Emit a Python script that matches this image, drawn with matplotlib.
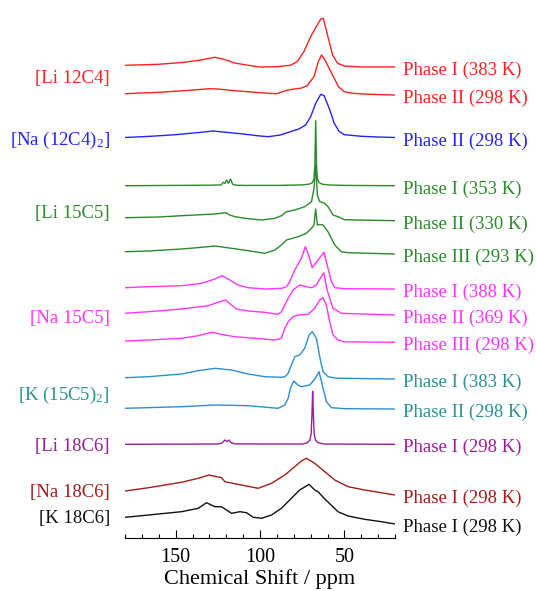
import matplotlib
matplotlib.use("Agg")
import matplotlib.pyplot as plt

plt.rcParams["font.family"] = ["Liberation Serif", "DejaVu Serif"]
plt.rcParams["mathtext.fontset"] = "custom"
plt.rcParams["mathtext.rm"] = "Liberation Serif"
plt.rcParams["mathtext.it"] = "Liberation Serif:italic"

# ---- spectra: ppm and intensity above own baseline ----
li12c4_p1_ppm = [180, 160, 145, 135, 127, 122, 115, 108, 100, 90, 82, 78, 74, 70, 67, 64, 62.5, 60, 57, 54, 50, 40, 30, 20]
li12c4_p1_int = [1.7, 2.7, 4.7, 7, 9.7, 8, 4, 2, 0, 0.3, 1.7, 5.3, 15.3, 30.3, 39.3, 48, 48.7, 32, 12, 3.7, 1, 0, 0, 0]

li12c4_p2_ppm = [180, 160, 145, 130, 125, 115, 105, 95, 90, 85, 80, 76, 72, 70.5, 68, 65.5, 63.5, 61.5, 59.5, 56.5, 53.5, 50, 45, 35, 20]
li12c4_p2_int = [1.3, 2.7, 4.3, 6.3, 6, 4.3, 3, 1.7, 1.3, 4.3, 6, 6.7, 9.3, 13, 18.3, 33.3, 40, 35, 28.3, 18.3, 8.3, 3.3, 1.7, 0.7, 0]

na12c4_p2_ppm = [180, 165, 150, 135, 128, 120, 110, 100, 95, 88, 82, 77, 73, 70, 67, 64, 62, 59, 56, 53, 50, 40, 30, 20]
na12c4_p2_int = [0, 1.2, 2.8, 5.2, 6.5, 5.2, 3.5, 1.5, 0.8, 2.5, 5.8, 8.5, 12.5, 20.8, 34.2, 43.2, 41.8, 29.2, 14.2, 5.8, 2.8, 1.2, 0.5, 0]

li15c5_p1_ppm = [180, 150, 130, 123, 121.8, 120.8, 119.8, 118.7, 117.5, 116.2, 114, 110, 90, 75, 71, 69, 68, 67.5, 67, 66.5, 66, 65, 63, 60, 50, 20]
li15c5_p1_int = [0, 0.3, 0.5, 0.8, 3.4, 2.4, 5.7, 2.4, 6.7, 1.4, 0.5, 0.3, 0.3, 0.8, 1.5, 3, 7, 20, 65, 20, 7, 3, 1.5, 0.8, 0.3, 0]

li15c5_p2_ppm = [180, 160, 146.5, 135, 126.7, 120.2, 117.9, 114.9, 108, 99, 91.2, 87.3, 84.3, 79.4, 73.5, 69.5, 68, 67, 66, 64.6, 61.6, 59.7, 56.7, 53.8, 50, 20]
li15c5_p2_int = [3, 3.7, 5, 6, 6.7, 8, 5.7, 4, 2.2, 0.7, 2.4, 5, 9, 10.7, 14, 19, 32.4, 55.7, 25.7, 19, 17.4, 14, 5.7, 4, 1, 0]

li15c5_p3_ppm = [180, 166, 146.5, 134.6, 126.7, 116.9, 107, 97.2, 91.2, 87.3, 84.3, 77.4, 72.5, 69.5, 68, 67, 66, 64.6, 62.6, 59.7, 55.7, 51.8, 48, 20]
li15c5_p3_int = [2.3, 3, 5, 6.7, 8, 5.7, 3.3, 0.7, 4, 9, 14, 17.3, 20.7, 25.7, 29, 45, 29, 29.5, 29, 22.3, 9, 2.3, 1.3, 0]

na15c5_p1_ppm = [180, 166, 146.5, 134.6, 126.7, 122.4, 117.9, 113, 107, 97, 87, 84.3, 82.4, 79.4, 75.5, 73.1, 71, 69.1, 67.5, 65.6, 62.1, 59.7, 57.7, 55.7, 50, 20]
na15c5_p1_int = [1.3, 2.3, 3.3, 5.7, 10, 13.3, 9, 4, 1.3, 0, 0.7, 2.3, 7.3, 19, 30.7, 42.3, 33, 21.3, 24.7, 29, 36.7, 20.7, 7.3, 1.3, 0.3, 0]

na15c5_p2_ppm = [180, 166, 146.5, 130.7, 126.7, 120.4, 116.9, 113.9, 107, 97.2, 89.3, 87.3, 85.3, 83.3, 80.4, 76.5, 73, 69.5, 66.6, 64.5, 62.2, 60.5, 58.7, 56.7, 51.8, 20]
na15c5_p2_int = [1.7, 3.3, 6, 9.3, 11.7, 15, 10, 6, 4, 2.7, 0.7, 3.3, 10, 16.7, 25, 30, 28.5, 27.3, 30, 36, 42.3, 27, 16.7, 6.7, 1.7, 0]

na15c5_p3_ppm = [180, 166, 146.5, 136.6, 128.7, 120.8, 114.9, 103, 91.2, 87.3, 85.3, 83.3, 80.4, 77.4, 71.5, 67.6, 64.6, 62.6, 60.7, 58.7, 56.7, 53.8, 50, 20]
na15c5_p3_int = [1.3, 2.3, 4, 6.6, 10, 7.3, 5.6, 4, 2.3, 4, 14, 20.6, 25.6, 27.3, 28, 34, 42.3, 44.6, 37.3, 20.6, 7.3, 2.3, 0.5, 0]

k15c5_p1_ppm = [180, 166, 146.5, 136.6, 126.7, 116.9, 107, 97.2, 87.3, 85.3, 83.3, 81.4, 79.4, 76.5, 73.5, 70.9, 69, 66.6, 64.6, 64, 62.6, 59.7, 55, 20]
k15c5_p1_int = [1.3, 2.3, 5, 8.3, 10.7, 9, 5, 2.3, 1.7, 2.3, 5.7, 14, 22.3, 24, 30.7, 44, 47.3, 40.7, 22.3, 17.3, 7.3, 2.3, 0.8, 0]

k15c5_p2_ppm = [180, 146.5, 126.7, 107, 89.3, 85.3, 83.3, 82, 80, 77.5, 75.5, 70.5, 67.5, 65, 62.6, 60.7, 57.7, 50, 20]
k15c5_p2_int = [0.7, 2.3, 4, 3.3, 0.7, 4, 10.7, 20.7, 28, 24, 22.3, 24, 30, 37.3, 20.7, 7.3, 1.3, 0.3, 0]

li18c6_p1_ppm = [180, 125, 123, 121.5, 120.8, 119.6, 118.4, 117, 115, 75, 72, 70.5, 69.7, 69.2, 68.8, 68.4, 67.9, 67, 65.5, 62, 20]
li18c6_p1_int = [0, 0.3, 1, 3, 4.3, 2.7, 4.3, 1.5, 0.4, 0.3, 1.5, 4, 10, 30, 53, 30, 10, 4, 1.5, 0.3, 0]

na18c6_p1_ppm = [180, 166, 146.5, 136.6, 130.3, 122.8, 120.8, 111, 101.1, 93.2, 85.3, 79.4, 75.5, 72.5, 67.6, 61.6, 55.7, 47.8, 38, 28.1, 20]
na18c6_p1_int = [4, 7.3, 12.7, 16.7, 20, 17.3, 13.3, 10, 6.7, 11.7, 20, 28.3, 34, 36.7, 31.7, 23.3, 15, 8.3, 5, 2.3, 0]

k18c6_p1_ppm = [180, 166, 146.5, 136.6, 131.7, 126.7, 122.8, 116.9, 111.9, 108, 104, 99.1, 93.2, 87.3, 81.4, 76.5, 73.5, 70.9, 67.6, 65.6, 61.6, 59.7, 53.8, 47.8, 38, 28.1, 20]
k18c6_p1_int = [6.7, 9, 12.3, 15.7, 21.3, 17.3, 17.3, 10.7, 12.3, 11.3, 6.7, 5.7, 9, 15.7, 25.7, 34, 37, 39.7, 34, 32.3, 25, 22, 12.3, 8, 4.7, 2.3, 0]

spectra = [
    (li12c4_p1_ppm, li12c4_p1_int), (li12c4_p2_ppm, li12c4_p2_int),
    (na12c4_p2_ppm, na12c4_p2_int),
    (li15c5_p1_ppm, li15c5_p1_int), (li15c5_p2_ppm, li15c5_p2_int), (li15c5_p3_ppm, li15c5_p3_int),
    (na15c5_p1_ppm, na15c5_p1_int), (na15c5_p2_ppm, na15c5_p2_int), (na15c5_p3_ppm, na15c5_p3_int),
    (k15c5_p1_ppm, k15c5_p1_int), (k15c5_p2_ppm, k15c5_p2_int),
    (li18c6_p1_ppm, li18c6_p1_int), (na18c6_p1_ppm, na18c6_p1_int), (k18c6_p1_ppm, k18c6_p1_int),
]

phase_labels = ["Phase I (383 K)", "Phase II (298 K)", "Phase II (298 K)",
                "Phase I (353 K)", "Phase II (330 K)", "Phase III (293 K)",
                "Phase I (388 K)", "Phase II (369 K)", "Phase III (298 K)",
                "Phase I (383 K)", "Phase II (298 K)",
                "Phase I (298 K)", "Phase I (298 K)", "Phase I (298 K)"]

compounds = ["[Li 12C4]", "[Na (12C4)$_2$]", "[Li 15C5]", "[Na 15C5]",
             "[K (15C5)$_2$]", "[Li 18C6]", "[Na 18C6]", "[K 18C6]"]

# ---- layout / style ----
offsets = [471, 443, 400.5, 352.3, 317.3, 284, 249, 223, 195.7, 159, 129, 93.7, 43, 14]
line_colors = ["#ff2020", "#ff2020", "#2424ff",
               "#2a8a2a", "#2a8a2a", "#2a8a2a",
               "#ff33ff", "#ff33ff", "#ff33ff",
               "#2c8fd0", "#2c8fd0",
               "#9b1c9b", "#a51a1a", "#111111"]
label_colors = ["#ff2020", "#ff2020", "#2424ff",
                "#2a8a2a", "#2a8a2a", "#2a8a2a",
                "#ff33ff", "#ff33ff", "#ff33ff",
                "#2a9090", "#2a9090",
                "#9b1c9b", "#a51a1a", "#111111"]
compound_y = [459.4, 398, 324.3, 220, 143, 91.2, 45, 20]
compound_colors = ["#ff2020", "#2424ff", "#2a8a2a", "#ff33ff",
                   "#2a9090", "#9b1c9b", "#a51a1a", "#111111"]

fig = plt.figure(figsize=(5.36, 5.91), dpi=100)
ax = fig.add_axes([125 / 536, 53 / 591, 270 / 536, 533 / 591])

for (ppm, inten), off, c in zip(spectra, offsets, line_colors):
    ax.plot(ppm, [v + off for v in inten], color=c, lw=1.0)

for lab, off, c in zip(phase_labels, offsets, label_colors):
    ax.text(15.5, off - 3.5, lab, color=c, fontsize=13.5, va="center", ha="left", clip_on=False)

for lab, y, c in zip(compounds, compound_y, compound_colors):
    ax.text(189, y, lab, color=c, fontsize=13.5, va="center", ha="right", clip_on=False)

ax.set_xlim(180, 20)
ax.set_ylim(0, 533)
ax.set_yticks([])
for s in ["top", "left", "right"]:
    ax.spines[s].set_visible(False)
ax.spines["bottom"].set_linewidth(0.8)
ax.set_xticks([150, 100, 50])
ax.set_xticks(range(20, 181, 10), minor=True)
ax.tick_params(axis="x", which="major", direction="in", length=6, width=0.8, labelsize=14.5, pad=7)
ax.tick_params(axis="x", which="minor", direction="in", length=3, width=0.8)
ax.set_xlabel("Chemical Shift / ppm", fontsize=16, labelpad=2)

fig.savefig("out.png", dpi=100)
